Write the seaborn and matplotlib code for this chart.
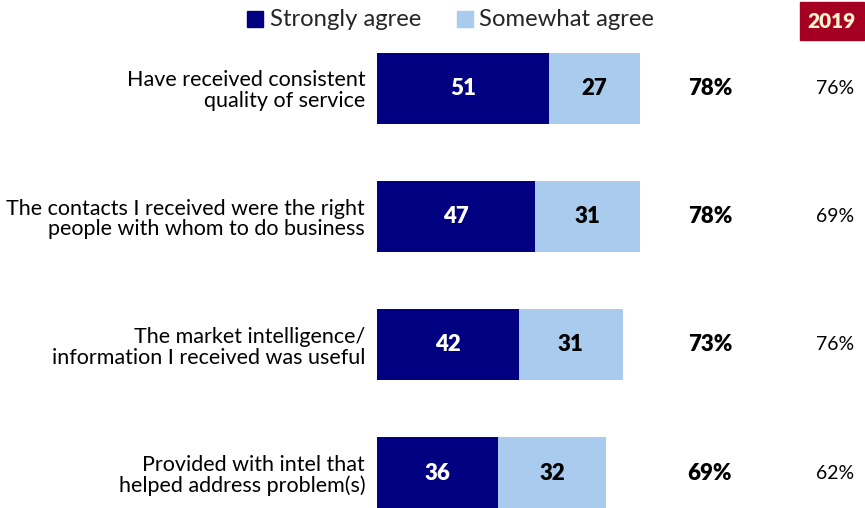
import matplotlib
matplotlib.use("Agg")
import matplotlib.pyplot as plt
import seaborn as sns
import pandas as pd
from matplotlib.patches import Rectangle

categories = [
    "Have received consistent\nquality of service",
    "The contacts I received were the right\npeople with whom to do business",
    "The market intelligence/\ninformation I received was useful",
    "Provided with intel that\nhelped address problem(s)",
]
strongly = [51, 47, 42, 36]
somewhat = [27, 31, 31, 32]
totals = ["78%", "78%", "73%", "69%"]
prior_2019 = ["76%", "69%", "76%", "62%"]

DARK = "#000080"
LIGHT = "#A9CBEE"
FONT = ["Lato", "DejaVu Sans"]

sns.set_theme(style="white")
plt.rcParams["font.family"] = FONT

df = pd.DataFrame({
    "category": categories,
    "strong": strongly,
    "some": somewhat,
})
df["combined"] = df["strong"] + df["some"]

fig = plt.figure(figsize=(8.65, 5.08), dpi=100)
ax = fig.add_axes([377 / 865, 0, 1 - 377 / 865, 1 - 40 / 508])

sns.barplot(data=df, y="category", x="combined", orient="h", color=LIGHT,
            saturation=1, width=0.555, linewidth=0, ax=ax)
sns.barplot(data=df, y="category", x="strong", orient="h", color=DARK,
            saturation=1, width=0.555, linewidth=0, ax=ax)

ax.set_xlim(0, 144.8)
ax.set_ylim(3.273, -0.378)
ax.set_xlabel("")
ax.set_ylabel("")
ax.set_xticks([])
ax.tick_params(axis="y", length=0, pad=8.5, labelsize=15.5)
for lab in ax.get_yticklabels():
    lab.set_horizontalalignment("right")
    lab.set_multialignment("right")
    lab.set_linespacing(1.05)
    lab.set_color("#000000")
sns.despine(ax=ax, left=True, bottom=True)

for i, (s, w) in enumerate(zip(strongly, somewhat)):
    ax.text(s / 2, i, str(s), ha="center", va="center", color="white",
            fontsize=16, fontweight="heavy")
    ax.text(s + w / 2, i, str(w), ha="center", va="center", color="black",
            fontsize=16, fontweight="heavy")
    ax.text(98.8, i, totals[i], ha="center", va="center", color="black",
            fontsize=16, fontweight="heavy")
    ax.text(136, i, prior_2019[i], ha="center", va="center", color="black",
            fontsize=14)

# legend row
fig.patches.append(Rectangle((247 / 865, 1 - 27 / 508), 16 / 865, 16 / 508,
                             transform=fig.transFigure, color=DARK))
fig.text(270 / 865, 1 - 19 / 508, "Strongly agree", ha="left", va="center",
         fontsize=17.2)
fig.patches.append(Rectangle((457 / 865, 1 - 27 / 508), 16 / 865, 16 / 508,
                             transform=fig.transFigure, color=LIGHT))
fig.text(479 / 865, 1 - 19 / 508, "Somewhat agree", ha="left", va="center",
         fontsize=17.2)

# year badge
fig.patches.append(Rectangle((800 / 865, 1 - 40 / 508), 64 / 865, 38 / 508,
                             transform=fig.transFigure, color="#A50021"))
fig.text(832 / 865, 1 - 21 / 508, "2019", ha="center", va="center",
         fontsize=15, fontweight="heavy", color="#FFF2CC")

fig.savefig("out.png", dpi=100)
